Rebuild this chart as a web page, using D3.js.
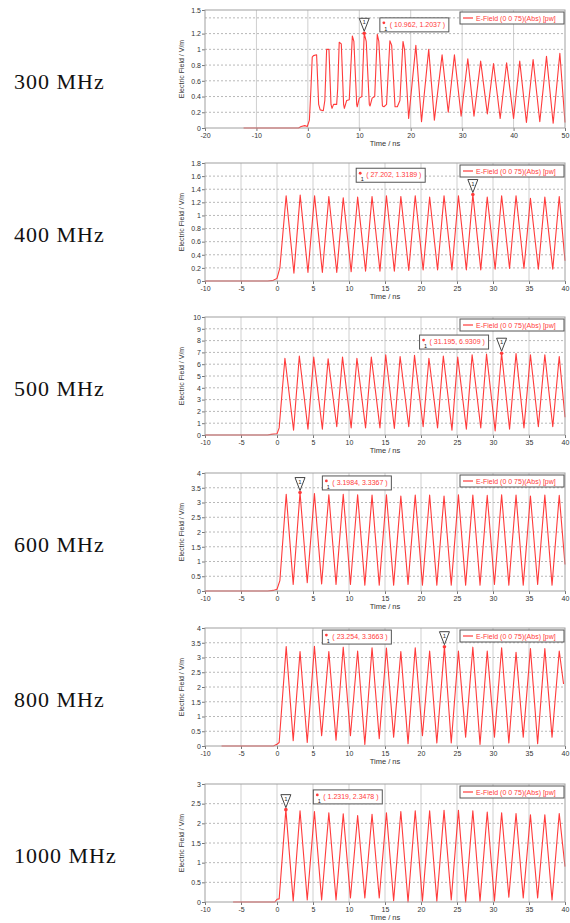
<!DOCTYPE html>
<html>
<head>
<meta charset="utf-8">
<script src="https://cdn.jsdelivr.net/npm/d3@7/dist/d3.min.js"></script>
<style>
  body { margin: 0; background: #fff; }
</style>
</head>
<body>
<div id="plot"></div>
<script>
/* Step 1
 * Data
 */
// =================================
var freqLabels = ["300 MHz", "400 MHz", "500 MHz", "600 MHz", "800 MHz", "1000 MHz"];
var legendText = "E-Field (0 0 75)(Abs) [pw]";

// tick labels
var xTicks300 = [-20, -10, 0, 10, 20, 30, 40, 50];
var xTicks = [-10, -5, 0, 5, 10, 15, 20, 25, 30, 35, 40];
var yTicks300 = [0, 0.2, 0.4, 0.6, 0.8, 1, 1.2, 1.5];
var yGrid300 = [0.2, 0.4, 0.6, 0.8, 1, 1.2, 1.4];
var yTicks400 = [0, 0.2, 0.4, 0.6, 0.8, 1, 1.2, 1.4, 1.6, 1.8];
var yTicks500 = [0, 1, 2, 3, 4, 5, 6, 7, 8, 9, 10];
var yTicks600 = [0, 0.5, 1, 1.5, 2, 2.5, 3, 3.5, 4];
var yTicks1000 = [0, 0.5, 1, 1.5, 2, 2.5, 3];

// 300 MHz: [time ns, field V/m]
var wave300 = [[-12.5, 0], [-1.8, 0], [-1.3, 0.02], [-0.6, 0.03], [-0.1, 0.02], [0.3, 0.1], [0.6, 0.5],
    [0.85, 0.9], [1.1, 0.92], [1.7, 0.93], [2.1, 0.3], [2.4, 0.23], [3.0, 0.22], [3.3, 0.35],
    [3.65, 1.0], [4.1, 1.0], [4.5, 0.3], [4.7, 0.25], [5.0, 0.3], [5.6, 0.3], [5.8, 0.5],
    [6.1, 1.09], [6.5, 1.07], [6.95, 0.3], [7.1, 0.25], [7.55, 0.35], [8.05, 0.36],
    [8.65, 1.17], [8.95, 1.1], [9.5, 0.3], [9.6, 0.27], [10.0, 0.38], [10.5, 0.4],
    [10.962, 1.2037], [11.35, 1.1], [11.95, 0.3], [12.1, 0.28], [12.5, 0.38], [13.0, 0.4],
    [13.5, 1.19], [13.8, 1.1], [14.5, 0.28], [14.8, 0.27], [15.3, 0.3],
    [15.95, 1.11], [16.3, 1.05], [16.95, 0.27], [17.4, 0.27], [17.9, 0.35],
    [18.5, 1.1], [18.8, 1.0], [19.6, 0.12], [21.0, 1.05], [22.1, 0.08], [23.5, 1.0],
    [24.6, 0.1], [26.1, 0.93], [27.3, 0.2], [28.5, 0.93], [29.8, 0.15], [31.1, 0.88],
    [32.3, 0.15], [33.6, 0.85], [34.9, 0.18], [36.1, 0.82], [37.4, 0.12], [38.65, 0.83],
    [40.0, 0.12], [41.2, 0.85], [42.5, 0.07], [43.8, 0.87], [45.1, 0.08], [46.4, 0.91],
    [47.7, 0.06], [49.0, 0.95], [50, 0.07]];

// 400 MHz
var lead400 = [[-10, 0], [-1.3, 0], [-0.5, 0.01], [0, 0.04], [0.4, 0.2]];
var peakT400 = [1.27, 3.22, 5.22, 7.2, 9.2, 11.2, 13.2, 15.2, 17.2, 19.2, 21.2, 23.2, 25.2, 27.202, 29.2, 31.2, 33.2, 35.2, 37.2, 39.2];
var peakV400 = [1.30, 1.31, 1.30, 1.29, 1.27, 1.28, 1.29, 1.30, 1.29, 1.30, 1.28, 1.30, 1.30, 1.3189, 1.28, 1.30, 1.30, 1.26, 1.28, 1.29];
var troughT400 = [2.35, 4.3, 6.3, 8.3, 10.3, 12.3, 14.3, 16.3, 18.3, 20.3, 22.3, 24.3, 26.3, 28.3, 30.3, 32.3, 34.3, 36.3, 38.3];
var troughV400 = [0.12, 0.13, 0.13, 0.13, 0.14, 0.15, 0.15, 0.15, 0.16, 0.17, 0.17, 0.17, 0.17, 0.17, 0.18, 0.19, 0.19, 0.18, 0.18];
var end400 = [40, 0.31];

// 500 MHz
var lead500 = [[-10, 0], [-1.3, 0], [-0.8, 0.05], [0, 0.1], [0.3, 0.6]];
var peakT500 = [1.1, 3.1, 5.1, 7.1, 9.1, 11.1, 13.1, 15.1, 17.1, 19.1, 21.1, 23.1, 25.1, 27.1, 29.1, 31.195, 33.2, 35.2, 37.2, 39.2];
var peakV500 = [6.5, 6.7, 6.6, 6.45, 6.6, 6.5, 6.6, 6.8, 6.65, 6.75, 6.5, 6.7, 6.6, 6.8, 6.85, 6.9309, 6.9, 6.8, 6.8, 6.65];
var troughT500 = [2.3, 4.3, 6.3, 8.3, 10.3, 12.3, 14.3, 16.3, 18.3, 20.3, 22.3, 24.3, 26.3, 28.3, 30.3, 32.3, 34.3, 36.3, 38.3];
var troughV500 = [0.4, 0.5, 0.5, 0.7, 0.6, 0.6, 0.6, 0.55, 0.7, 0.7, 0.6, 0.4, 0.5, 0.6, 0.35, 0.5, 0.6, 0.7, 0.7];
var end500 = [40, 1.5];

// 600 MHz
var lead600 = [[-10, 0], [-1.3, 0], [-0.5, 0.02], [0, 0.06], [0.4, 0.35]];
var peakT600 = [1.28, 3.1984, 5.2, 7.2, 9.2, 11.2, 13.2, 15.2, 17.2, 19.2, 21.2, 23.2, 25.2, 27.2, 29.2, 31.2, 33.2, 35.2, 37.2, 39.2];
var peakV600 = [3.28, 3.3367, 3.3, 3.26, 3.28, 3.26, 3.25, 3.26, 3.22, 3.25, 3.25, 3.22, 3.26, 3.25, 3.24, 3.26, 3.25, 3.22, 3.25, 3.24];
var troughT600 = [2.25, 4.2, 6.2, 8.2, 10.2, 12.2, 14.2, 16.2, 18.2, 20.2, 22.2, 24.2, 26.2, 28.2, 30.2, 32.2, 34.2, 36.2, 38.2];
var troughV600 = [0.22, 0.28, 0.24, 0.22, 0.22, 0.2, 0.2, 0.2, 0.22, 0.2, 0.2, 0.2, 0.2, 0.2, 0.22, 0.2, 0.2, 0.22, 0.2];
var end600 = [40, 0.9];

// 800 MHz
var lead800 = [[-7.7, 0], [-0.5, 0], [0, 0.06], [0.3, 0.12]];
var peakT800 = [1.28, 3.2, 5.2, 7.2, 9.2, 11.2, 13.2, 15.2, 17.2, 19.2, 21.2, 23.254, 25.2, 27.2, 29.2, 31.2, 33.2, 35.2, 37.2, 39.2];
var peakV800 = [3.37, 3.2, 3.38, 3.2, 3.35, 3.22, 3.33, 3.32, 3.2, 3.33, 3.22, 3.3663, 3.22, 3.35, 3.22, 3.33, 3.18, 3.3, 3.3, 3.22];
var troughT800 = [2.25, 4.2, 6.2, 8.2, 10.2, 12.2, 14.2, 16.2, 18.2, 20.2, 22.2, 24.2, 26.2, 28.2, 30.2, 32.2, 34.2, 36.2, 38.2];
var troughV800 = [0.18, 0.12, 0.35, 0.2, 0.35, 0.05, 0.25, 0.3, 0.08, 0.35, 0.1, 0.1, 0.3, 0.05, 0.3, 0.1, 0.3, 0.08, 0.3];
var end800 = [39.8, 2.1];

// 1000 MHz
var lead1000 = [[-6.1, 0], [-0.3, 0], [0, 0.07], [0.3, 0.08]];
var peakT1000 = [1.2319, 3.2, 5.2, 7.2, 9.2, 11.2, 13.2, 15.2, 17.2, 19.2, 21.2, 23.2, 25.2, 27.2, 29.2, 31.2, 33.2, 35.2, 37.2, 39.2];
var peakV1000 = [2.3478, 2.32, 2.3, 2.27, 2.24, 2.2, 2.23, 2.27, 2.3, 2.32, 2.32, 2.33, 2.33, 2.32, 2.29, 2.27, 2.25, 2.22, 2.22, 2.25];
var troughT1000 = [2.25, 4.2, 6.2, 8.2, 10.2, 12.2, 14.2, 16.2, 18.2, 20.2, 22.2, 24.2, 26.2, 28.2, 30.2, 32.2, 34.2, 36.2, 38.2];
var troughV1000 = [0.02, 0.05, 0.05, 0.05, 0.1, 0.1, 0.1, 0.03, 0.0, 0.02, 0.02, 0.05, 0.0, 0.02, 0.02, 0.12, 0.1, 0.1, 0.05];
var end1000 = [40, 0.9];

// marked maximum of each run
var markers = [[10.962, 1.2037], [27.202, 1.3189], [31.195, 6.9309], [3.1984, 3.3367], [23.254, 3.3663], [1.2319, 2.3478]];

function buildWave(lead, peakT, peakV, troughT, troughV, end) {
    var pts = lead.slice();
    peakT.forEach(function (t, i) {
        pts.push([t, peakV[i]]);
        if (i < troughT.length) pts.push([troughT[i], troughV[i]]);
    });
    pts.push(end);
    return pts;
}

/* Step 2
 * Layout
 */
// =================================
var svgWidth = 570;
var svgHeight = 923;
var plotLeft = 205;
var plotWidth = 360;
var plotHeight = 118;
var tickFont = "'Liberation Sans', Arial, sans-serif";

var panels = [
    { top: 10, xDomain: [-20, 50], xTicks: xTicks300, yDomain: [0, 1.5], yTicks: yTicks300, yGrid: yGrid300,
      wave: wave300, box: [14.0, 1.40] },
    { top: 163, xDomain: [-10, 40], xTicks: xTicks, yDomain: [0, 1.8], yTicks: yTicks400, yGrid: yTicks400,
      wave: buildWave(lead400, peakT400, peakV400, troughT400, troughV400, end400), box: [11.0, 1.72] },
    { top: 317, xDomain: [-10, 40], xTicks: xTicks, yDomain: [0, 10], yTicks: yTicks500, yGrid: yTicks500,
      wave: buildWave(lead500, peakT500, peakV500, troughT500, troughV500, end500), box: [19.8, 8.47] },
    { top: 473, xDomain: [-10, 40], xTicks: xTicks, yDomain: [0, 4], yTicks: yTicks600, yGrid: yTicks600,
      wave: buildWave(lead600, peakT600, peakV600, troughT600, troughV600, end600), box: [6.3, 3.9] },
    { top: 628, xDomain: [-10, 40], xTicks: xTicks, yDomain: [0, 4], yTicks: yTicks600, yGrid: yTicks600,
      wave: buildWave(lead800, peakT800, peakV800, troughT800, troughV800, end800), box: [6.3, 3.93] },
    { top: 784, xDomain: [-10, 40], xTicks: xTicks, yDomain: [0, 3], yTicks: yTicks1000, yGrid: yTicks1000,
      wave: buildWave(lead1000, peakT1000, peakV1000, troughT1000, troughV1000, end1000), box: [5.04, 2.85] }
];

var svg = d3.select("#plot")
    .append("svg")
    .attr("width", svgWidth)
    .attr("height", svgHeight)
    .style("display", "block");

/* Step 3
 * Draw each panel
 */
// =================================
panels.forEach(function (p, i) {
    var xScale = d3.scaleLinear().domain(p.xDomain).range([plotLeft, plotLeft + plotWidth]);
    var yScale = d3.scaleLinear().domain(p.yDomain).range([p.top + plotHeight, p.top]);
    var g = svg.append("g");

    // frequency label on the left
    g.append("text")
        .attr("x", 14)
        .attr("y", p.top + 79)
        .attr("font-family", "'Liberation Serif', 'Times New Roman', serif")
        .attr("font-size", "22px")
        .attr("letter-spacing", "1px")
        .attr("fill", "#111")
        .text(freqLabels[i]);

    // plot background + grid
    g.append("rect")
        .attr("x", plotLeft).attr("y", p.top)
        .attr("width", plotWidth).attr("height", plotHeight)
        .attr("fill", "#fff");

    g.selectAll(".vgrid")
        .data(p.xTicks.slice(1, -1))
        .enter().append("line")
        .attr("x1", d => xScale(d)).attr("x2", d => xScale(d))
        .attr("y1", p.top).attr("y2", p.top + plotHeight)
        .attr("stroke", "#cfcfcf").attr("stroke-width", 1);

    g.selectAll(".hgrid")
        .data(p.yGrid.filter(d => d > p.yDomain[0] && d < p.yDomain[1]))
        .enter().append("line")
        .attr("x1", plotLeft).attr("x2", plotLeft + plotWidth)
        .attr("y1", d => yScale(d)).attr("y2", d => yScale(d))
        .attr("stroke", "#b8b8b8").attr("stroke-width", 1)
        .attr("stroke-dasharray", "2,2");

    // axes
    var leftAxis = d3.axisLeft(yScale).tickValues(p.yTicks).tickSize(3).tickSizeOuter(0)
        .tickFormat(d => String(d));
    var bottomAxis = d3.axisBottom(xScale).tickValues(p.xTicks).tickSize(3).tickSizeOuter(0)
        .tickFormat(d => String(d));

    var ya = g.append("g").attr("transform", `translate(${plotLeft}, 0)`).call(leftAxis);
    var xa = g.append("g").attr("transform", `translate(0, ${p.top + plotHeight})`).call(bottomAxis);
    [ya, xa].forEach(function (a) {
        a.select(".domain").remove();
        a.selectAll("line").attr("stroke", "#777");
        a.selectAll("text").attr("font-family", tickFont).attr("font-size", "7px").attr("fill", "#333");
    });
    ya.selectAll("text").attr("x", -4);
    xa.selectAll("text").attr("y", 5);

    // axis titles
    g.append("text")
        .attr("transform", `translate(184, ${p.top + plotHeight / 2}) rotate(-90)`)
        .attr("text-anchor", "middle")
        .attr("font-family", tickFont)
        .attr("font-size", "7px")
        .attr("fill", "#333")
        .text("Electric Field / V/m");

    g.append("text")
        .attr("x", plotLeft + plotWidth / 2)
        .attr("y", p.top + plotHeight + 18)
        .attr("text-anchor", "middle")
        .attr("font-family", tickFont)
        .attr("font-size", "7.5px")
        .attr("fill", "#333")
        .text("Time / ns");

    // the waveform
    var line = d3.line().x(d => xScale(d[0])).y(d => yScale(d[1]));
    g.append("path")
        .datum(p.wave)
        .attr("d", line)
        .attr("fill", "none")
        .attr("stroke", "#ff3b3b")
        .attr("stroke-width", 1.1)
        .attr("stroke-linejoin", "round");

    // frame
    g.append("rect")
        .attr("x", plotLeft).attr("y", p.top)
        .attr("width", plotWidth).attr("height", plotHeight)
        .attr("fill", "none").attr("stroke", "#a0a0a0");

    // legend
    var lx = plotLeft + plotWidth - 105, ly = p.top + 2;
    g.append("rect")
        .attr("x", lx).attr("y", ly).attr("width", 104).attr("height", 12)
        .attr("fill", "#fff").attr("stroke", "#555").attr("stroke-width", 1);
    g.append("line")
        .attr("x1", lx + 3).attr("x2", lx + 13).attr("y1", ly + 6).attr("y2", ly + 6)
        .attr("stroke", "#ff3b3b").attr("stroke-width", 1.2);
    g.append("text")
        .attr("x", lx + 16).attr("y", ly + 8.7)
        .attr("font-family", tickFont).attr("font-size", "7px").attr("fill", "#ff3b3b")
        .text(legendText);

    // maximum marker: dot, triangle, value box
    var m = markers[i];
    var mx = xScale(m[0]), my = yScale(m[1]);
    g.append("circle").attr("cx", mx).attr("cy", my).attr("r", 1.8).attr("fill", "#ff3b3b");
    g.append("path")
        .attr("d", `M${mx},${my - 2} L${mx - 5},${my - 15} L${mx + 5},${my - 15} Z`)
        .attr("fill", "#fff").attr("stroke", "#444").attr("stroke-width", 1);
    g.append("text")
        .attr("x", mx).attr("y", my - 9)
        .attr("text-anchor", "middle")
        .attr("font-family", tickFont).attr("font-size", "6px").attr("fill", "#333")
        .text("1");

    var bx = xScale(p.box[0]), by = yScale(p.box[1]);
    g.append("rect")
        .attr("x", bx).attr("y", by).attr("width", 69).attr("height", 14)
        .attr("fill", "#fff").attr("stroke", "#555").attr("stroke-width", 1);
    g.append("circle").attr("cx", bx + 4).attr("cy", by + 5).attr("r", 1.4).attr("fill", "#ff3b3b");
    g.append("text")
        .attr("x", bx + 4.5).attr("y", by + 13)
        .attr("font-family", tickFont).attr("font-size", "5.5px").attr("fill", "#111")
        .text("1");
    g.append("text")
        .attr("x", bx + 10).attr("y", by + 9)
        .attr("font-family", tickFont).attr("font-size", "7px").attr("fill", "#ff3b3b")
        .text(`( ${m[0]}, ${m[1]} )`);
});
</script>
</body>
</html>
